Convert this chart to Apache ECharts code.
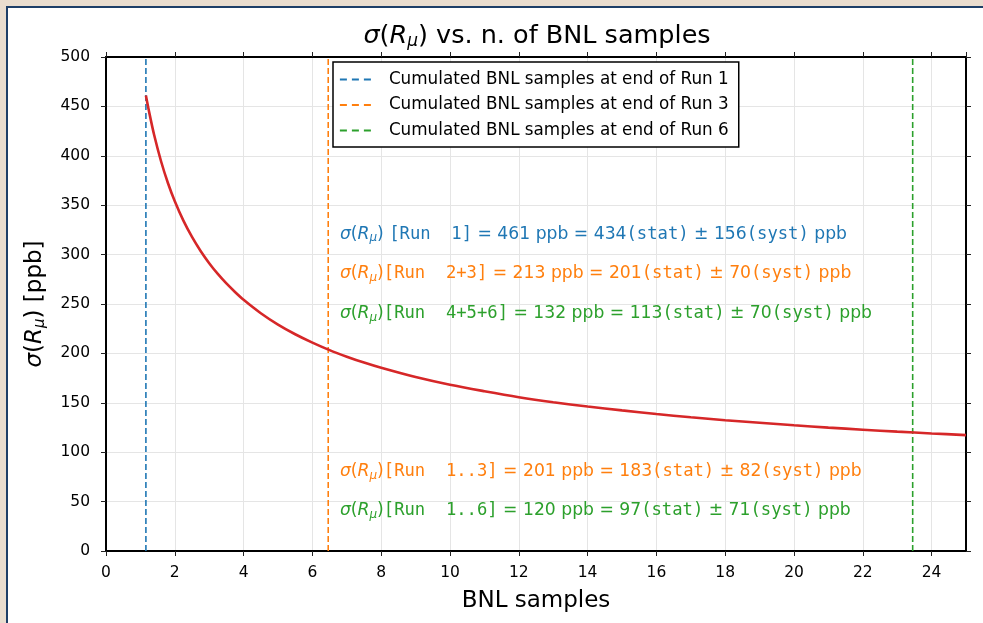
<!DOCTYPE html>
<html>
<head>
<meta charset="utf-8">
<script src="https://cdn.jsdelivr.net/npm/echarts@6/dist/echarts.min.js"></script>
<style>
html,body{margin:0;padding:0;width:983px;height:623px;overflow:hidden;background:#e9ddcf;}
#panel{position:absolute;left:6px;top:6px;width:1000px;height:640px;background:#fff;border-left:2.5px solid #1d3f68;border-top:2.5px solid #1d3f68;}
#chart{position:absolute;left:0;top:0;width:983px;height:623px;}
</style>
</head>
<body>
<div id="panel"></div>
<div id="chart"></div>
<script>
// ---- data ----
const sampleX = [1.16, 1.25, 1.4, 1.6, 1.8, 2, 2.25, 2.5, 2.75, 3, 3.25, 3.5, 3.75, 4, 4.5, 5, 5.5, 6, 6.5, 7, 7.5, 8, 9, 10, 11, 12, 13, 14, 15, 16, 17, 18, 19, 20, 21, 22, 23, 24, 25];
const sigmaVals = [461, 445, 421, 394.5, 372.5, 354, 334.4, 317.9, 303.7, 291.3, 280.4, 270.8, 262.2, 254.3, 240.7, 229.2, 219.4, 210.9, 203.3, 196.7, 190.7, 185.4, 176.0, 168.2, 161.7, 155.7, 150.6, 146.2, 142.3, 138.6, 135.3, 132.4, 129.8, 127.2, 124.9, 122.8, 120.8, 119.0, 117.3];
const runNames = ['Cumulated BNL samples at end of Run 1', 'Cumulated BNL samples at end of Run 3', 'Cumulated BNL samples at end of Run 6'];
const runX = [1.16, 6.46, 23.45];
const runColors = ['#1f77b4', '#ff7f0e', '#2ca02c'];
const annotRuns = ['Run  1', 'Run  2+3', 'Run  4+5+6', 'Run  1..3', 'Run  1..6'];
const annotTotal = [461, 213, 132, 201, 120];
const annotStat = [434, 201, 113, 183, 97];
const annotSyst = [156, 70, 70, 82, 71];
const annotColors = ['#1f77b4', '#ff7f0e', '#2ca02c', '#ff7f0e', '#2ca02c'];
const annotX = 6.8;
const annotY = [322, 282, 242, 82, 42];
const xTicks = {min: 0, max: 25, interval: 2};
const yTicks = {min: 0, max: 500, interval: 50};

const SANS = 'DejaVu Sans';
const MONO = 'DejaVu Sans Mono';
const chart = echarts.init(document.getElementById('chart'));

const series = [];
runX.forEach((x, i) => {
  series.push({
    name: runNames[i], type: 'line', data: [[x, yTicks.min], [x, yTicks.max]],
    symbol: 'none', silent: true, z: 3,
    lineStyle: {color: runColors[i], width: 1.6, type: [6, 3]},
    itemStyle: {color: runColors[i]}
  });
});
series.push({
  name: 'sigma', type: 'line', smooth: 0.3, symbol: 'none', z: 4,
  data: sampleX.map((x, i) => [x, sigmaVals[i]]),
  lineStyle: {color: '#d62728', width: 2.6}
});

const tickStyle = {show: true, inside: false, length: 5, lineStyle: {color: '#222', width: 1}};
const option = {
  animation: false,
  backgroundColor: 'transparent',
  title: {
    text: '{i|σ}{n|(}{i|R}{s|μ}{n|) vs. n. of BNL samples}',
    left: 532, top: 17, textAlign: 'center',
    textStyle: {
      fontWeight: 'normal',
      rich: {
        n: {fontFamily: SANS, fontSize: 25.5, color: '#000', fontWeight: 'normal'},
        i: {fontFamily: SANS, fontStyle: 'italic', fontSize: 25.5, color: '#000', fontWeight: 'normal'},
        s: {fontFamily: SANS, fontStyle: 'italic', fontSize: 17, color: '#000', fontWeight: 'normal', verticalAlign: 'bottom', padding: [11, 0, 0, 0]}
      }
    }
  },
  legend: {
    data: runNames, orient: 'vertical', left: 333, top: 62,
    backgroundColor: '#fff', borderColor: '#000', borderWidth: 1.5, borderRadius: 0,
    padding: [9, 10, 8, 6], itemWidth: 36, itemHeight: 16, itemGap: 8.5,
    itemStyle: {opacity: 0, borderWidth: 0},
    lineStyle: {type: [7, 5], width: 1.8},
    textStyle: {fontFamily: SANS, fontSize: 16.8, color: '#000', padding: [0, 0, 0, 8]},
    selectedMode: false
  },
  grid: {left: 106, right: 17, top: 57, bottom: 72, containLabel: false},
  xAxis: [{
    type: 'value', min: xTicks.min, max: xTicks.max, interval: xTicks.interval,
    name: 'BNL samples', nameLocation: 'middle', nameGap: 39,
    nameTextStyle: {fontFamily: SANS, fontSize: 23, color: '#000'},
    axisLine: {show: true, onZero: false, lineStyle: {color: '#000', width: 2}},
    axisTick: tickStyle,
    axisLabel: {fontFamily: SANS, fontSize: 15.5, color: '#000', margin: 14, showMaxLabel: false},
    splitLine: {show: true, lineStyle: {color: '#e5e5e5', width: 1}}
  }, {
    type: 'value', position: 'top', min: xTicks.min, max: xTicks.max, interval: xTicks.interval,
    axisLine: {show: true, onZero: false, lineStyle: {color: '#000', width: 2}},
    axisTick: tickStyle, axisLabel: {show: false}, splitLine: {show: false}
  }],
  yAxis: [{
    type: 'value', min: yTicks.min, max: yTicks.max, interval: yTicks.interval,
    name: '{i|σ}{n|(}{i|R}{s|μ}{n|) [ppb]}', nameLocation: 'middle', nameGap: 58, nameRotate: 90,
    nameTextStyle: {
      rich: {
        n: {fontFamily: SANS, fontSize: 23, color: '#000'},
        i: {fontFamily: SANS, fontStyle: 'italic', fontSize: 23, color: '#000'},
        s: {fontFamily: SANS, fontStyle: 'italic', fontSize: 15, color: '#000', verticalAlign: 'bottom', padding: [10, 0, 0, 0]}
      }
    },
    axisLine: {show: true, onZero: false, lineStyle: {color: '#000', width: 2}},
    axisTick: tickStyle,
    axisLabel: {fontFamily: SANS, fontSize: 15.5, color: '#000', margin: 16},
    splitLine: {show: true, lineStyle: {color: '#e5e5e5', width: 1}}
  }, {
    type: 'value', position: 'right', min: yTicks.min, max: yTicks.max, interval: yTicks.interval,
    axisLine: {show: true, onZero: false, lineStyle: {color: '#000', width: 2}},
    axisTick: tickStyle, axisLabel: {show: false}, splitLine: {show: false}
  }],
  series: series
};
chart.setOption(option);

// annotation texts placed at data coordinates
const graphics = annotRuns.map((run, i) => {
  const p = chart.convertToPixel({xAxisIndex: 0, yAxisIndex: 0}, [annotX, annotY[i]]);
  const c = annotColors[i];
  const st = (fam, size, extra) => Object.assign({fontFamily: fam, fontSize: size, fill: c, color: c}, extra || {});
  return {
    type: 'text', left: p[0], top: p[1] - 7, z: 10, silent: true,
    style: {
      text: '{i|σ}{n|(}{i|R}{s|μ}{n|)' + (i === 0 ? ' ' : '') + '}{m|[' + run + ']}{n| = ' + annotTotal[i] + ' ppb = ' + annotStat[i] + '}{m|(stat)}{n| ± ' + annotSyst[i] + '}{m|(syst)}{n| ppb}',
      fill: c,
      rich: {
        n: st(SANS, 17.2),
        i: st(SANS, 17.2, {fontStyle: 'italic'}),
        s: st(SANS, 12, {fontStyle: 'italic', verticalAlign: 'bottom', padding: [8, 0, 0, 0]}),
        m: st(MONO, 17.2)
      }
    }
  };
});
chart.setOption({graphic: graphics});
</script>
</body>
</html>
